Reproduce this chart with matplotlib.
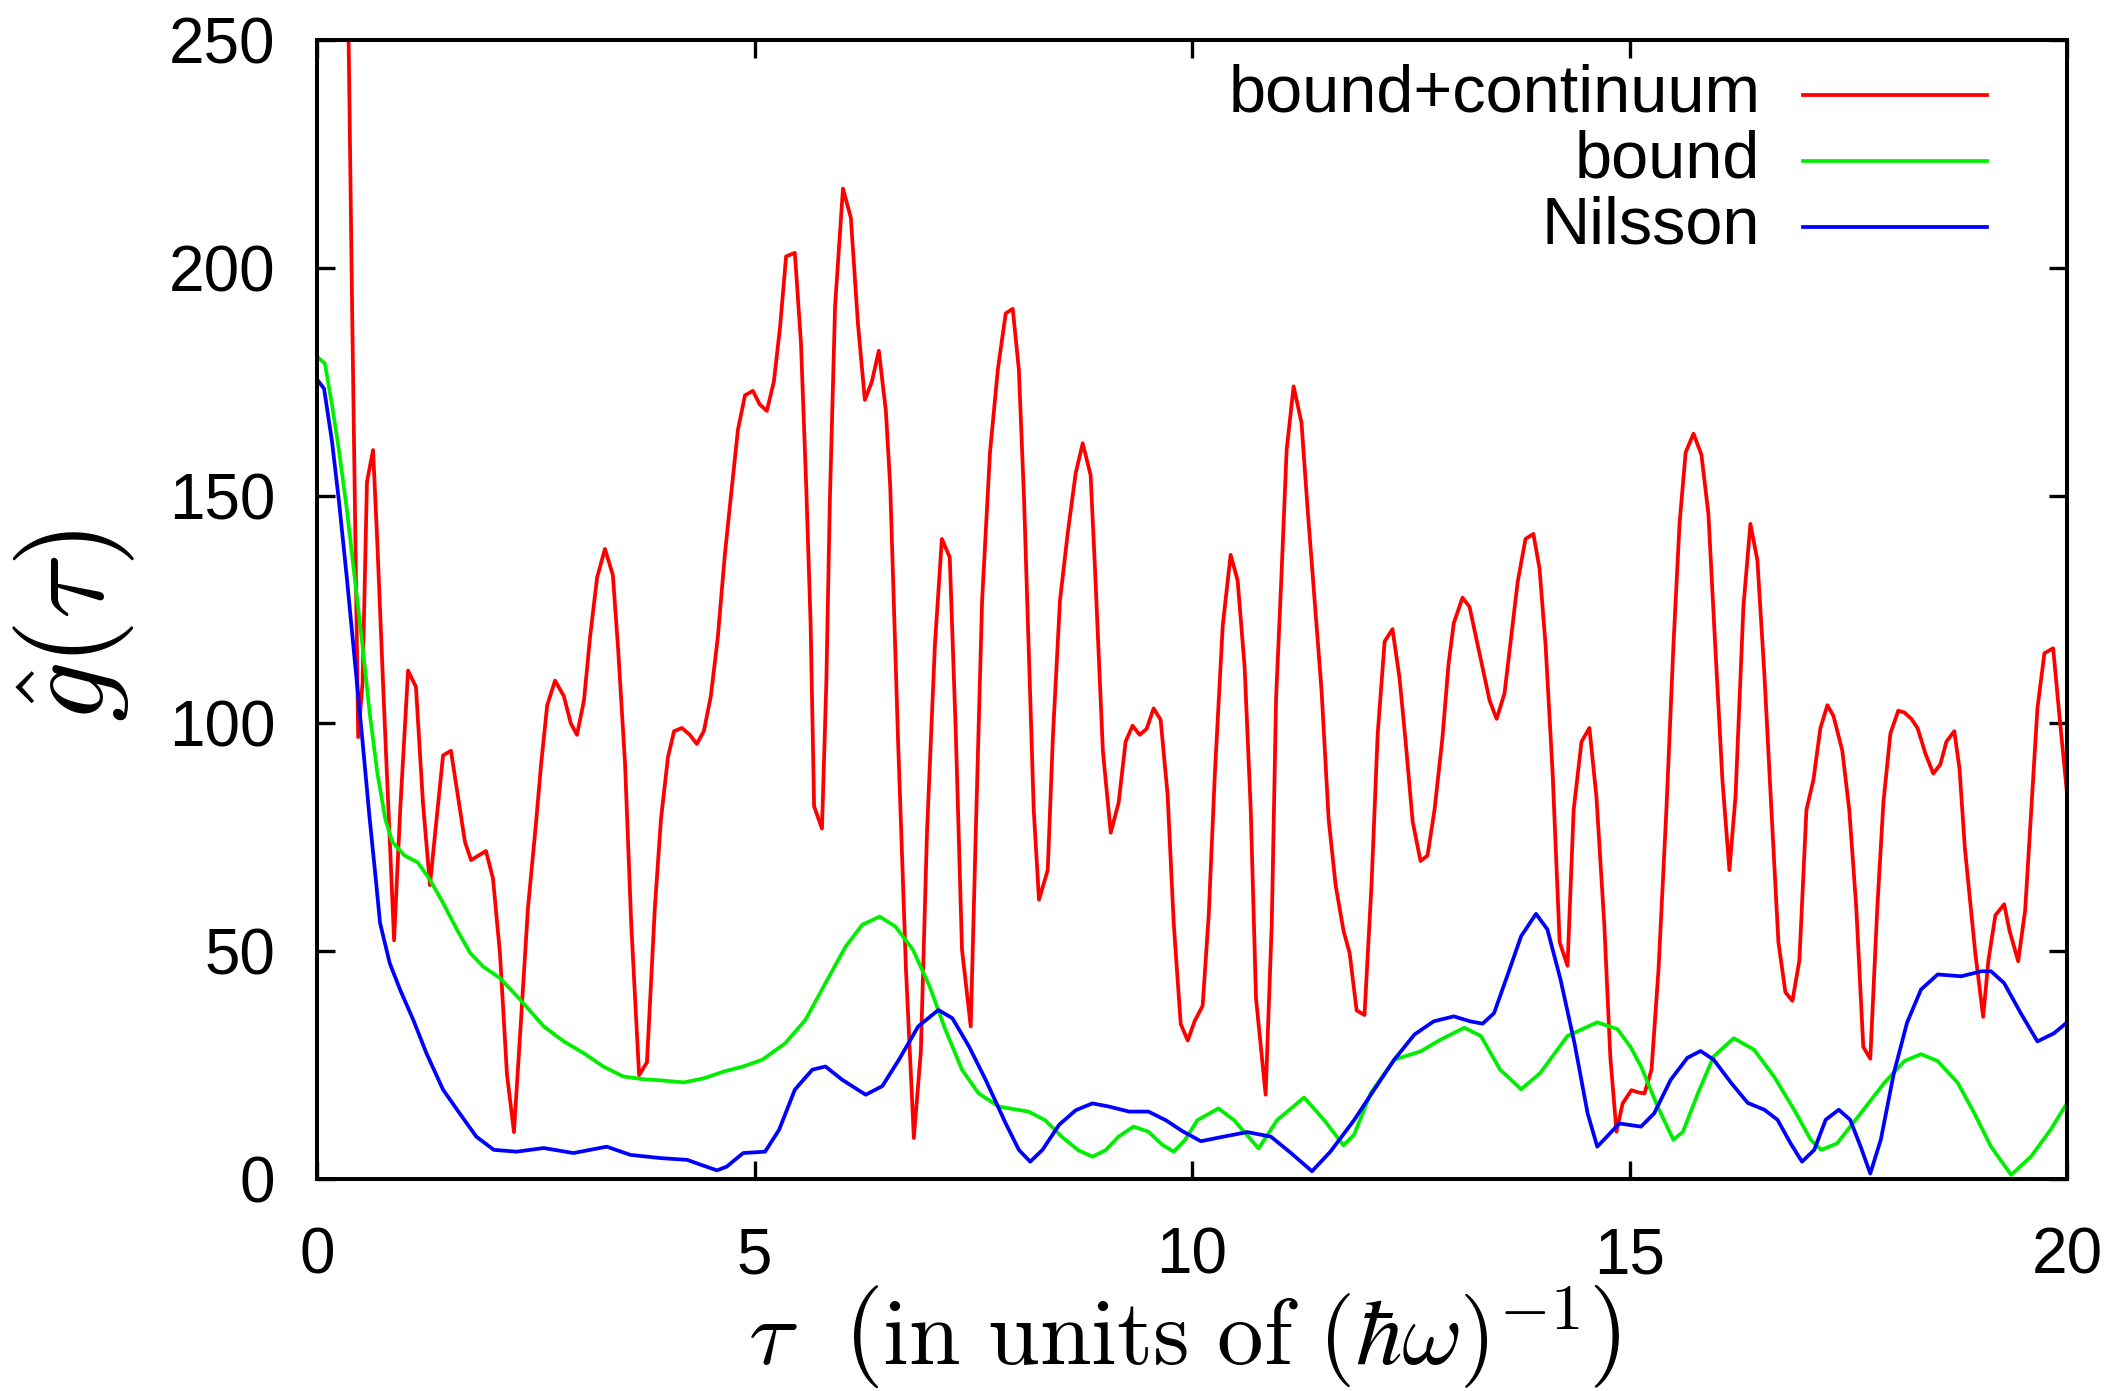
import matplotlib
matplotlib.use('Agg')
import matplotlib.pyplot as plt
from matplotlib.lines import Line2D

plt.rcParams['font.family'] = ['Liberation Sans', 'DejaVu Sans']
plt.rcParams['mathtext.fontset'] = 'cm'

# bound+continuum (values above 250 near tau=0 run off the top of the frame)
red_x = [0.00, 0.08, 0.16, 0.24, 0.32, 0.40, 0.47, 0.52, 0.57, 0.64, 0.69, 0.76, 0.88, 0.95,
         1.04, 1.13, 1.21, 1.29, 1.35, 1.44, 1.53, 1.61, 1.69, 1.76, 1.93, 2.01, 2.09, 2.17,
         2.25, 2.33, 2.41, 2.50, 2.56, 2.63, 2.72, 2.82, 2.90, 2.97, 3.05, 3.12, 3.20, 3.29,
         3.38, 3.44, 3.52, 3.59, 3.68, 3.77, 3.86, 3.93, 4.01, 4.08, 4.17, 4.26, 4.34, 4.42,
         4.50, 4.58, 4.66, 4.73, 4.81, 4.89, 4.98, 5.06, 5.14, 5.22, 5.29, 5.36, 5.46, 5.53,
         5.59, 5.64, 5.68, 5.77, 5.82, 5.86, 5.92, 6.01, 6.10, 6.18, 6.26, 6.34, 6.42, 6.50,
         6.55, 6.64, 6.73, 6.82, 6.90, 6.97, 7.06, 7.14, 7.23, 7.30, 7.37, 7.47, 7.53, 7.60,
         7.69, 7.78, 7.87, 7.95, 8.02, 8.08, 8.15, 8.19, 8.25, 8.35, 8.41, 8.49, 8.58, 8.67,
         8.75, 8.84, 8.89, 8.98, 9.07, 9.16, 9.24, 9.32, 9.40, 9.48, 9.56, 9.64, 9.72, 9.79,
         9.87, 9.95, 10.03, 10.12, 10.19, 10.26, 10.35, 10.44, 10.52, 10.60, 10.67, 10.73,
         10.84, 10.91, 10.96, 11.02, 11.08, 11.16, 11.25, 11.32, 11.40, 11.48, 11.56, 11.64,
         11.73, 11.80, 11.88, 11.97, 12.05, 12.12, 12.20, 12.29, 12.37, 12.44, 12.52, 12.61,
         12.69, 12.77, 12.86, 12.93, 12.99, 13.09, 13.17, 13.30, 13.40, 13.48, 13.57, 13.64,
         13.72, 13.81, 13.90, 13.97, 14.04, 14.12, 14.20, 14.29, 14.36, 14.45, 14.54, 14.62,
         14.71, 14.78, 14.85, 14.92, 15.02, 15.10, 15.17, 15.25, 15.33, 15.42, 15.50, 15.57,
         15.64, 15.73, 15.82, 15.90, 15.97, 16.06, 16.14, 16.21, 16.30, 16.38, 16.46, 16.54,
         16.62, 16.70, 16.78, 16.86, 16.94, 17.02, 17.10, 17.18, 17.26, 17.33, 17.43, 17.51,
         17.59, 17.67, 17.75, 17.83, 17.90, 17.98, 18.07, 18.14, 18.22, 18.29, 18.38, 18.47,
         18.55, 18.62, 18.71, 18.77, 18.83, 18.95, 19.04, 19.10, 19.18, 19.28, 19.34, 19.44,
         19.52, 19.59, 19.66, 19.74, 19.84, 19.91, 20.00]
red_y = [2000, 1400, 900, 550, 310, 192, 97, 109, 153, 160, 139, 106, 52.4, 81,
         111.6, 108, 82.6, 64.5, 76, 93, 94, 84, 74, 70, 72, 66, 49.6, 23,
         10.3, 34.7, 59.5, 77.7, 91, 104, 109.4, 106, 100, 97.5, 105, 119, 132, 138.3,
         132.6, 116.5, 91, 56, 22.8, 25.6, 59.5, 79, 92.6, 98.3, 99, 97.5, 95.5, 98.3,
         106, 119, 137, 150, 164.5, 172, 173, 170, 168.6, 175, 186.8, 202.5, 203.3, 183.5,
         152, 122, 81.8, 76.9, 109, 148.8, 191.7, 217.4, 211, 188, 171, 175, 181.8, 168.6,
         152, 96, 46, 9, 28, 76, 117, 140.5, 136.5, 97.5, 50.4, 33.5, 77.7, 127,
         159.5, 177.7, 190, 191, 177.7, 148.8, 105.8, 81, 61.3, 67.8, 97.5, 127, 142, 155,
         161.5, 154.5, 134, 94, 76, 82.6, 96, 99.5, 97.5, 98.8, 103.3, 100.8, 84.3, 56,
         34, 30.4, 34.7, 38, 58, 89, 121.5, 137, 131.4, 112.4, 81, 39.7,
         18.5, 56, 105.8, 132, 160, 174, 166, 147, 127, 107, 79, 64.5,
         54.5, 49.6, 37, 36, 64.5, 97.5, 118, 120.7, 110, 96, 78.5, 69.8,
         71, 81, 96.7, 113, 122, 127.6, 125.6, 114, 105, 101, 106.6, 118,
         131, 140.5, 141.6, 134, 117, 89, 52, 46.8, 81, 96, 99, 84,
         56, 26.5, 10.4, 16.6, 19.5, 19, 18.8, 24, 46, 81, 117, 143.8,
         159.5, 163.6, 159, 146, 120, 87.6, 67.8, 84, 125.6, 143.8, 135.8, 110.7,
         81, 52, 41, 39.1, 48, 81, 87.6, 99, 104, 101.6, 94, 81,
         59.5, 29, 26.4, 59.5, 82.7, 97.8, 102.8, 102.4, 101, 99, 93.4, 89,
         91, 96, 98.3, 90, 72.8, 49.6, 35.6, 48, 57.9, 60.3, 54.6, 47.8,
         59, 81, 103.3, 115.4, 116.5, 102, 84.3]

# bound
green_x = [0.00, 0.09, 0.17, 0.25, 0.34, 0.43, 0.52, 0.60, 0.69, 0.78, 0.86, 1.00, 1.15, 1.29,
           1.44, 1.60, 1.75, 1.90, 2.09, 2.32, 2.59, 2.82, 3.05, 3.27, 3.50, 3.73, 3.96, 4.19,
           4.42, 4.65, 4.87, 5.09, 5.35, 5.58, 5.81, 6.04, 6.23, 6.43, 6.61, 6.81, 7.00, 7.18,
           7.37, 7.56, 7.79, 8.13, 8.32, 8.51, 8.70, 8.86, 9.01, 9.16, 9.33, 9.50, 9.66, 9.79,
           9.92, 10.06, 10.30, 10.48, 10.76, 10.97, 11.28, 11.51, 11.73, 11.85, 12.04, 12.31,
           12.61, 12.84, 13.11, 13.30, 13.52, 13.76, 13.98, 14.29, 14.63, 14.86, 15.01, 15.13,
           15.32, 15.50, 15.61, 15.78, 15.96, 16.19, 16.42, 16.65, 16.88, 17.07, 17.19, 17.37,
           17.64, 17.91, 18.14, 18.33, 18.52, 18.75, 18.94, 19.13, 19.36, 19.59, 19.81, 20.00]
green_y = [180.5, 179, 170, 160, 147, 132, 117, 102.5, 89, 79, 74, 71, 69.5, 65.7,
           60.6, 54.7, 49.6, 46.6, 44.1, 39.4, 33.5, 30.2, 27.6, 24.7, 22.5, 21.9, 21.6, 21.2,
           22.1, 23.6, 24.7, 26.2, 29.8, 34.9, 43, 51, 55.8, 57.6, 55.4, 50.3, 42.3, 32.8,
           24, 18.8, 15.9, 14.8, 12.9, 9.3, 6.3, 4.9, 6.3, 9.3, 11.5, 10.4, 7.5, 6.0,
           8.6, 12.9, 15.5, 12.9, 6.7, 12.9, 17.9, 12.9, 7.4, 9.7, 18.8, 26.2,
           28, 30.6, 33.2, 31.4, 24, 19.7, 23.3, 31.4, 34.4, 32.9, 29, 24.7,
           15.9, 8.6, 10.4, 18.8, 26.9, 30.9, 28.4, 22.5, 15.2, 8.6, 6.4, 7.8,
           14.4, 21.1, 25.9, 27.4, 25.9, 21.1, 14.4, 7.1, 0.9, 5, 10.8, 16.7]

# Nilsson
blue_x = [0.00, 0.08, 0.17, 0.25, 0.34, 0.43, 0.52, 0.60, 0.67, 0.72, 0.83, 0.95, 1.10, 1.25,
          1.44, 1.63, 1.82, 2.02, 2.28, 2.59, 2.93, 3.31, 3.58, 3.92, 4.23, 4.42, 4.57, 4.68,
          4.87, 5.12, 5.28, 5.46, 5.66, 5.81, 6.00, 6.27, 6.46, 6.65, 6.87, 7.10, 7.26, 7.45,
          7.64, 7.87, 8.02, 8.15, 8.29, 8.48, 8.67, 8.86, 9.05, 9.28, 9.50, 9.70, 9.89, 10.10,
          10.36, 10.63, 10.90, 11.13, 11.37, 11.58, 11.85, 12.08, 12.31, 12.54, 12.76, 12.99,
          13.18, 13.32, 13.45, 13.60, 13.76, 13.93, 14.06, 14.21, 14.37, 14.52, 14.63, 14.74,
          14.88, 15.13, 15.28, 15.47, 15.66, 15.81, 15.96, 16.16, 16.35, 16.54, 16.69, 16.84,
          16.97, 17.11, 17.24, 17.39, 17.52, 17.64, 17.75, 17.87, 18.02, 18.17, 18.33, 18.52,
          18.79, 19.02, 19.13, 19.28, 19.47, 19.66, 19.85, 20.00]
blue_y = [175.5, 173.5, 162, 148.8, 132, 114, 96, 79.3, 66, 56.2, 47.4, 41.5, 34.9, 27.6,
          19.6, 14.4, 9.3, 6.4, 6.0, 6.8, 5.7, 7.1, 5.3, 4.6, 4.2, 2.9, 1.9, 2.7,
          5.7, 6.0, 10.8, 19.6, 24, 24.7, 21.8, 18.5, 20.4, 26.2, 33.5, 37.1, 35.3, 29.1,
          21.8, 12.2, 6.4, 3.8, 6.4, 11.9, 15.1, 16.6, 15.9, 14.8, 14.8, 12.9, 10.5, 8.3,
          9.3, 10.3, 9.3, 5.7, 1.7, 6.0, 12.9, 19.6, 26.2, 31.7, 34.6, 35.7,
          34.6, 34.1, 36.4, 44.5, 53.3, 58.2, 54.8, 43.8, 29.8, 14.4, 7.1, 9.3,
          12.2, 11.5, 14.4, 21.8, 26.6, 28.1, 26.2, 21.1, 16.7, 15.2, 13, 7.8,
          3.8, 6.4, 13, 15.2, 13, 7.1, 1.2, 8.6, 23.3, 34.3, 41.6, 44.9,
          44.5, 45.6, 45.6, 43, 36.4, 30.2, 32, 34.4]

names = ['bound+continuum', 'bound', 'Nilsson']
colors = ['#ff0000', '#00ee00', '#0000ff']
series = [(red_x, red_y), (green_x, green_y), (blue_x, blue_y)]

fig = plt.figure(figsize=(21.18, 13.91), dpi=100)
ax = fig.add_axes([0.1497, 0.1524, 0.8263, 0.8188])

for (xs, ys), c in zip(series, colors):
    ax.plot(xs, ys, color=c, lw=2.7)

ax.set_xlim(0, 20)
ax.set_ylim(0, 250)
ax.set_xticks([0, 5, 10, 15, 20])
ax.set_yticks([0, 50, 100, 150, 200, 250])
ax.tick_params(direction='in', length=13, width=2.4, top=True, right=True,
               labelsize=46)
ax.tick_params(axis='x', pad=34)
ax.tick_params(axis='y', pad=30)
for s in ax.spines.values():
    s.set_linewidth(2.9)

ax.set_xlabel(r'$\tau\ \ \left(\mathrm{in\ units\ of\ }(\hbar\omega)^{-1}\right)$',
              fontsize=67, va='baseline')
ax.xaxis.set_label_coords(0.4956, -0.163)
ax.set_ylabel(r'$\hat{g}(\tau)$', fontsize=86, va='center')
ax.yaxis.set_label_coords(-0.139, 0.486)

# gnuplot-style key: right-justified text, sample line after it
for i, (n, c) in enumerate(zip(names, colors)):
    yy = 0.952 - i * 0.058
    ax.text(0.8246, yy, n, transform=ax.transAxes, ha='right', va='center', fontsize=48)
    ax.add_line(Line2D([0.849, 0.954], [yy, yy], transform=ax.transAxes, color=c, lw=2.7))

fig.savefig('out.png', dpi=100)
